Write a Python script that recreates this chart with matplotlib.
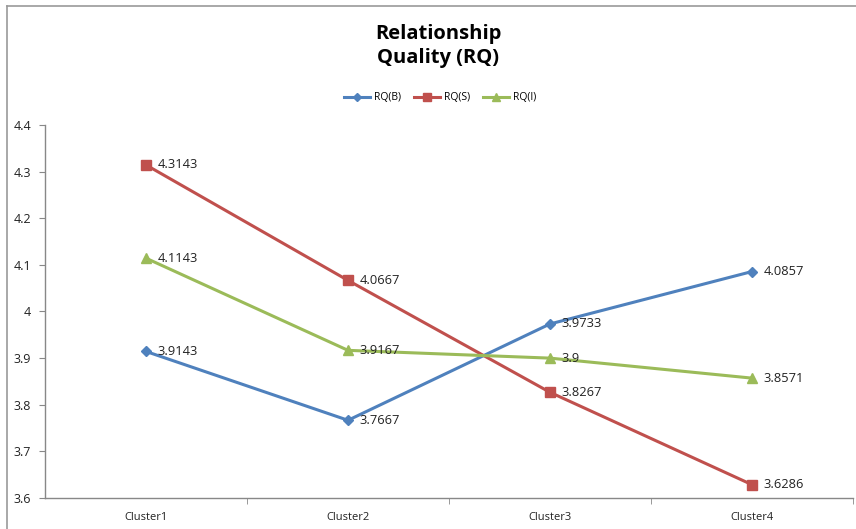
import matplotlib
matplotlib.use("Agg")
import matplotlib.pyplot as plt
from matplotlib.lines import Line2D

categories = ["Cluster1", "Cluster2", "Cluster3", "Cluster4"]
rq_b = [3.9143, 3.7667, 3.9733, 4.0857]
rq_s = [4.3143, 4.0667, 3.8267, 3.6286]
rq_i = [4.1143, 3.9167, 3.9, 3.8571]
labels_b = ["3.9143", "3.7667", "3.9733", "4.0857"]
labels_s = ["4.3143", "4.0667", "3.8267", "3.6286"]
labels_i = ["4.1143", "3.9167", "3.9", "3.8571"]
series_names = ["RQ(B)", "RQ(S)", "RQ(I)"]
y_ticks = [3.6, 3.7, 3.8, 3.9, 4.0, 4.1, 4.2, 4.3, 4.4]
y_tick_labels = ["3.6", "3.7", "3.8", "3.9", "4", "4.1", "4.2", "4.3", "4.4"]

W, H = 856, 529
fig = plt.figure(figsize=(W / 100, H / 100), dpi=100)
plt.rcParams['font.family'] = ['Open Sans', 'DejaVu Sans']

ax = fig.add_axes([45 / W, 1 - 498 / H, (853 - 45) / W, (498 - 125) / H])

colors = ["#4F81BD", "#C0504D", "#9BBB59"]
markers = ["D", "s", "^"]
msizes = [5, 7, 7]
x = list(range(len(categories)))
all_vals = [rq_b, rq_s, rq_i]
all_labels = [labels_b, labels_s, labels_i]
for vals, labs, c, m, ms, name in zip(all_vals, all_labels, colors, markers, msizes, series_names):
    ax.plot(x, vals, color=c, lw=2.2, marker=m, ms=ms, mfc=c, mec=c, label=name,
            solid_capstyle='round', clip_on=False, zorder=3)
    for xi, v, lab in zip(x, vals, labs):
        ax.annotate(lab, (xi, v), xytext=(8.5, 0), textcoords='offset points',
                    va='center', ha='left', fontsize=9.3, color='#222222', zorder=4)

ax.set_xlim(-0.5, 3.5)
ax.set_ylim(3.6, 4.4)
ax.set_yticks(y_ticks)
ax.set_yticklabels(y_tick_labels)
ax.set_xticks(x)
ax.set_xticklabels(categories)
ax.tick_params(axis='x', length=0, pad=10, labelsize=8, colors='#222222')
ax.tick_params(axis='y', length=4, direction='out', color='#888888', pad=6, labelsize=9, labelcolor='#222222')
ax.set_xticks([0.5, 1.5, 2.5, 3.5], minor=True)
ax.tick_params(axis='x', which='minor', length=4, direction='out', color='#888888')
for s in ['top', 'right']:
    ax.spines[s].set_visible(False)
for s in ['left', 'bottom']:
    ax.spines[s].set_color('#888888')
    ax.spines[s].set_linewidth(1)

fig.text(438 / W, 1 - 46 / H, "Relationship\nQuality (RQ)", ha='center', va='center',
         fontsize=14.5, fontweight='bold', color='#000000', linespacing=1.25)

handles = [Line2D([0], [0], color=c, lw=2.2, marker=m, ms=ms * 0.8, mfc=c, mec=c)
           for c, m, ms in zip(colors, markers, msizes)]
fig.legend(handles, series_names, loc='center', bbox_to_anchor=(440 / W, 1 - 98 / H),
           ncol=3, frameon=False, fontsize=7.5, handlelength=2.5, columnspacing=1.2,
           handletextpad=0.4)

fig.add_artist(Line2D([7 / W, 7 / W], [0, 1 - 6 / H], color='#999999', lw=1.2, transform=fig.transFigure))
fig.add_artist(Line2D([7 / W, 1], [1 - 6 / H, 1 - 6 / H], color='#999999', lw=1.2, transform=fig.transFigure))

fig.savefig("out.png", dpi=100)
